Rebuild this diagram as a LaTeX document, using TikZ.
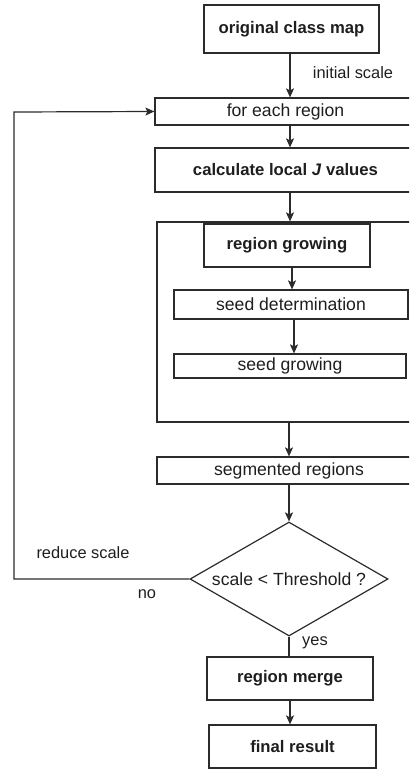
\documentclass[tikz,border=0pt]{standalone}
\usepackage{fontspec}
\setmainfont{Liberation Sans}
\usetikzlibrary{arrows.meta,shapes.geometric}
\definecolor{ln}{HTML}{2B2B2B}
\definecolor{tx}{HTML}{1E1E1E}
\tikzset{
  box/.style={draw=ln, line width=1.2bp, rectangle, inner sep=0pt, text=tx,
    font=\fontsize{17.6bp}{20bp}\selectfont},
  bbox/.style={box, font=\fontsize{16.7bp}{20bp}\selectfont\bfseries},
  dia/.style={draw=ln, line width=1.2bp, diamond, inner sep=0pt, aspect=1.74, text=tx,
    font=\fontsize{17.6bp}{20bp}\selectfont},
  arr/.style={draw=ln, line width=1.2bp, -{Stealth[length=9bp,width=8bp,inset=2bp]}},
  lnk/.style={draw=ln, line width=1.2bp},
  lbl/.style={text=tx, inner sep=0pt, font=\fontsize{16.4bp}{19bp}\selectfont}
}
\begin{document}
\begin{tikzpicture}[x=1bp,y=-1bp]
\useasboundingbox (0,0) rectangle (409,769);
\clip (0,0) rectangle (409,769);
\node[bbox, minimum width=175bp, minimum height=48bp] (ocm) at (291.5,29) {original class map};
\node[box, minimum width=261bp, minimum height=27bp] (fer) at (285.5,111.5) {for each region};
\node[bbox, minimum width=261bp, minimum height=44bp] (clj) at (285.5,170) {calculate local \textit{J} values};
\node[box, minimum width=264bp, minimum height=200bp] (cont) at (289,322) {};
\node[bbox, minimum width=166bp, minimum height=43bp] (rg) at (287,245.5) {region growing};
\node[box, minimum width=234bp, minimum height=29bp] (sd) at (291,304.5) {seed determination};
\node[box, minimum width=232bp, minimum height=24bp] (sg) at (290,366) {seed growing};
\node[box, minimum width=264bp, minimum height=27bp] (seg) at (289,470.5) {segmented regions};
\node[dia, minimum width=198bp, minimum height=114bp] (dec) at (289,579) {scale < Threshold ?};
\node[bbox, minimum width=166bp, minimum height=43bp] (rm) at (290,678.5) {region merge};
\node[bbox, minimum width=167bp, minimum height=43bp] (fr) at (292.5,746.5) {final result};

\coordinate (c1) at (290,0);
\draw[arr] (c1 |- ocm.south) -- (c1 |- fer.north);
\draw[arr] (c1 |- fer.south) -- (c1 |- clj.north);
\draw[arr] (c1 |- clj.south) -- (c1 |- cont.north);
\coordinate (c2) at (292,0);
\draw[arr] (c2 |- rg.south) -- (c2 |- sd.north);
\coordinate (c3) at (294,0);
\draw[arr] (c3 |- sd.south) -- (c3 |- sg.north);
\coordinate (c4) at (289,0);
\draw[arr] (c4 |- cont.south) -- (c4 |- seg.north);
\draw[arr] (dec.north |- seg.south) -- (dec.north);
\draw[lnk] (dec.south) -- (dec.south |- rm.north);
\draw[arr] (c1 |- rm.south) -- (c1 |- fr.north);

\coordinate (lb) at (14,579);
\coordinate (lt) at (14,112);
\draw[arr] (dec.west) -- (lb) -- (lt) -- (fer.west);

\node[lbl] (l1) at (353,73) {initial scale};
\node[lbl] (l2) at (83,553) {reduce scale};
\node[lbl] (l3) at (147,594) {no};
\node[lbl] (l4) at (315,643) {yes};
\end{tikzpicture}
\end{document}
